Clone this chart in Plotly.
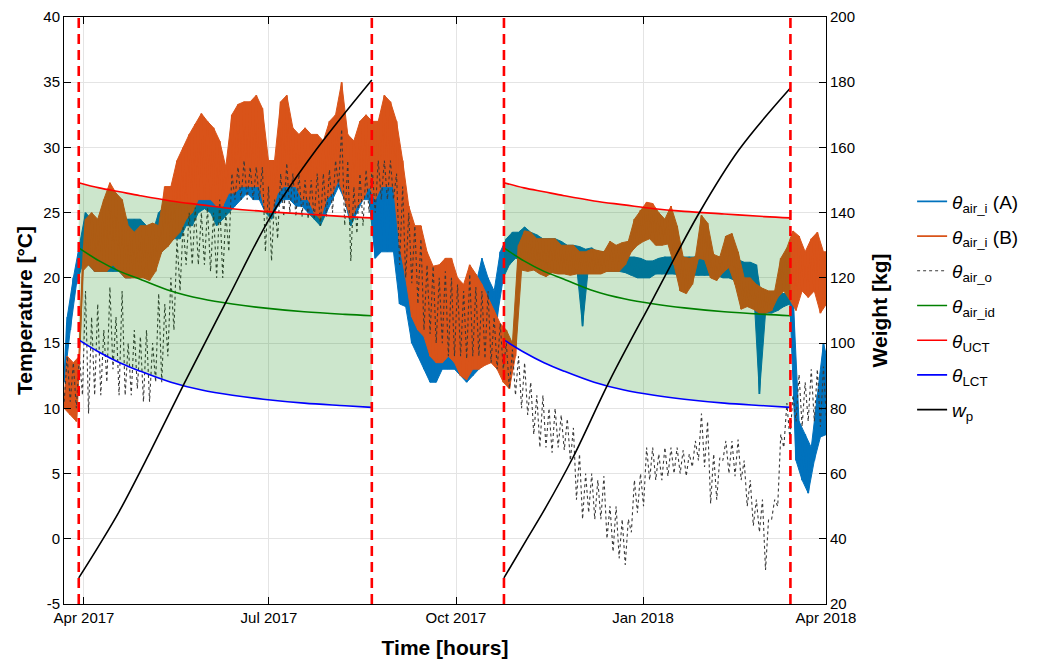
import pandas as pd
import plotly.graph_objects as go

# ---------------- data ----------------
sample_start = "2017-03-22 06:00"   # 3-day samples, each with a daily low / high
sample_step_days = 3

a_lo = [12, 16, 19.5, 21, 21, 20.5, 20.5, 20.5, 20.5, 20.5,
        20, 20, 20.5, 20, 20, 21, 22, 22.5, 23, 23,
        24, 24, 25, 25.3, 25, 24, 24.5, 25, 25.5, 26,
        26.5, 26, 26, 25, 24.5, 25.5, 26, 26, 25.5, 25.5,
        25, 24.5, 24, 25, 26, 27, 26, 24, 25, 26,
        26, 21.5, 22, 22, 22, 18, 17.8, 15, 14, 13,
        12, 12, 13, 13, 13, 12.5, 12, 12.5, 13, 13.5,
        14, 17, 20, 21, 21.5, 21.4, 21.4, 21.4, 21.3, 21.3,
        21.3, 21, 21, 21, 21, 16.3, 21, 20.8, 20.5, 20.5,
        20.5, 20.5, 20.4, 20.2, 20, 20, 20, 20.3, 20.3, 20.3,
        20.3, 20.2, 20.2, 20.2, 20.2, 20.2, 20.2, 20.2, 20, 20,
        19.8, 19.6, 19.6, 19.6, 11.1, 17.3, 17.3, 17.5, 17.8, 18,
        6, 4.5, 3.5, 6, 7.8, 8]
a_hi = [17, 20, 22.5, 25, 24.5, 24, 24.5, 25, 25, 24.5,
        24.5, 24.5, 24.5, 24, 23.5, 25, 25.5, 25.5, 26, 27,
        27.5, 28, 28, 28, 28, 27, 27, 28, 28.5, 29,
        29, 29, 28.5, 28, 27, 28.5, 29, 28.5, 28, 28,
        28, 27.5, 27, 28, 29, 30, 29, 27, 28, 29,
        29, 27, 29, 29, 28, 25, 22, 21, 21, 20,
        19, 19, 20, 20, 19.5, 19, 18.5, 19.5, 21.5, 20,
        19, 22, 23, 23.5, 23.5, 23.9, 23.5, 23.3, 23, 23,
        23, 22.8, 22.5, 22.5, 22.4, 22.2, 22.3, 22, 22, 22,
        21.8, 21.8, 21.6, 21.6, 21.5, 21.3, 21.3, 21.5, 21.6, 21.6,
        21.6, 21.6, 21.6, 21.6, 21.6, 21.6, 21.6, 21.6, 21.6, 21.6,
        21.4, 21.2, 21.2, 21, 18, 18.5, 18.5, 18.8, 18.8, 18.8,
        9, 8, 7, 11, 15, 13]
b_lo = [10, 9.5, 9, 20.5, 21, 20.5, 20.5, 20.5, 21, 20.5,
        20, 20, 20, 20, 19.8, 20.5, 22, 22.4, 23, 23.5,
        24.5, 25, 26, 26, 26, 25.5, 25.5, 26.5, 26.5, 27,
        27, 27, 27, 25, 25, 26.5, 27, 27, 27, 26,
        26, 25, 24.5, 26, 26.5, 27.5, 26, 24.5, 25.5, 26,
        27, 26, 27, 27, 27, 22.5, 20, 17, 16, 15.5,
        14, 13.5, 13.5, 14, 13.5, 12.5, 12.2, 13, 13, 13.3,
        13.5, 13, 12, 11.5, 14, 20.6, 20.5, 20.6, 20.3, 20.1,
        20.4, 20.3, 20.3, 20.2, 20.3, 20.3, 20.3, 20.3, 20.3, 20.5,
        20.5, 20.5, 21, 22, 22.5, 22.8, 23, 22.5, 22.5, 22.6,
        21, 19, 18.8, 19.5, 21.5, 21.4, 20, 19.8, 20.4, 20.8,
        19.5, 17.6, 17.8, 17.6, 17.3, 17.3, 17.5, 18.5, 19, 18.3,
        17.5, 19, 18.5, 19, 17.3, 18]
b_hi = [14, 13.5, 14, 24.5, 25, 24.5, 26, 27.3, 26.5, 26,
        24, 23.5, 24, 24, 24.2, 24, 27, 27, 29, 30,
        31, 31.8, 32.6, 32, 31.5, 30.5, 28.5, 32.5, 33.3, 33.5,
        33.5, 34, 33, 29, 29, 33.5, 34, 31.5, 31, 31.5,
        31, 31, 30.5, 32, 32.5, 35, 31, 30.5, 32, 32.5,
        32, 32, 34, 33.5, 32, 29, 25.5, 24, 24, 22,
        20.9, 21, 21.5, 21.5, 20, 19.5, 21, 20.3, 19.5, 18.5,
        17.5, 16.5, 16, 15, 22.5, 23.6, 23.5, 23, 23, 23,
        23, 22.5, 22.5, 22.5, 22, 22, 22.2, 22.1, 22, 22.8,
        22.5, 22.7, 22.8, 24.5, 25.2, 25.8, 25.7, 25, 24.5, 25.5,
        24, 21.6, 21.5, 21.6, 24.8, 24.2, 21.8, 21.6, 23.2, 23.4,
        22, 20, 20, 19.5, 19.2, 19, 19, 21.5, 22.3, 23.6,
        23.2, 22, 23, 23.5, 22, 22]
o_lo = [10.5, 10.5, 10, 11, 9.6, 11, 11, 12, 13, 11,
        11, 11, 11.5, 10.5, 10.5, 12, 12, 14, 16, 19,
        21, 21, 21, 21, 20.5, 20, 20, 22, 26, 26,
        26, 26, 26, 22, 21.3, 23, 24.7, 25, 24.7, 24.7,
        24.5, 24.5, 24, 24.7, 25, 27, 24, 21.3, 23.4, 24,
        25, 25, 26, 26, 26, 21, 20, 19.6, 18, 16,
        15.7, 15, 15, 14, 14, 14, 13.8, 14, 14, 13.8,
        13.5, 13, 13, 11.5, 11, 10, 9.5, 8, 7, 7,
        6.6, 7, 6.8, 6, 3, 1.5, 2, 1.5, 1.5, 0,
        -1, -1.5, -2, 0.5, 2, 2.5, 4.5, 4.5, 4.5, 4.8,
        5, 5, 4.8, 5.5, 6, 5.5, 2.7, 3, 6, 5,
        4.8, 4.5, 2.5, 1, 0.5, -2.4, 1.5, 2.5, 7, 7.6,
        9, 8.6, 9, 9, 8.6, 9]
o_hi = [14, 13.5, 14, 19, 17, 18, 16, 19.3, 17, 19,
        15, 16, 15.5, 16, 15, 18.8, 18, 20, 23, 24,
        25, 25.4, 25, 25.4, 25, 26, 25, 28, 28.5, 29,
        28.5, 28.5, 28.5, 27, 26, 28, 28.8, 28, 28, 27.5,
        27.5, 28, 28, 28.3, 29, 31.4, 29, 27, 28, 28.3,
        28.5, 29, 29, 29, 28, 27, 25, 24, 23, 21,
        20.9, 20, 20.5, 20, 19.5, 19, 20.3, 19.3, 19, 19,
        17, 16.5, 15, 14.5, 14, 13.5, 12, 11, 11, 10,
        10, 9.5, 9.2, 8.5, 6.5, 5, 5, 4.5, 4.8, 2.5,
        2.5, 1.5, 1.5, 4.5, 5, 7, 7, 6.5, 7, 7,
        7, 6.8, 6.5, 7.5, 9.6, 9, 6.5, 6.2, 7.5, 7.5,
        7.6, 6, 4.5, 3, 3, 1.5, 3, 8, 10.4, 11,
        12.6, 12, 13, 13, 13.2, 13]

# production phases (red dashed boundaries)
phase_start = ["2017-03-29 10:00", "2017-10-24 14:00"]
phase_end = ["2017-08-20 14:00", "2018-03-14 12:00"]

# comfort-temperature curves, sampled along each phase (days into phase of 143)
curve_days = [0, 10, 20, 30, 45, 60, 75, 90, 110, 130, 143]
theta_uct = [27.3, 26.9, 26.6, 26.3, 25.9, 25.6, 25.3, 25.1, 24.9, 24.7, 24.6]
theta_id = [22.3, 21.3, 20.5, 19.9, 19.0, 18.4, 18.0, 17.7, 17.4, 17.2, 17.1]
theta_lct = [15.25, 14.3, 13.5, 12.85, 12.0, 11.4, 11.0, 10.7, 10.4, 10.2, 10.07]

# pig weight per phase
wp1_days = [0, 10, 20, 35, 52, 73, 95, 117, 144.1]
wp1_kg = [28, 38, 48.5, 66.5, 87.8, 113.3, 139.5, 159.5, 180.7]
wp2_days = [0, 11, 20, 34, 52, 73, 96, 115.5, 140.9]
wp2_kg = [28, 39.6, 49, 65, 88.5, 113.2, 139.9, 159.2, 178.2]

tick_dates = ["2017-04-01", "2017-07-01", "2017-10-01", "2018-01-01", "2018-04-01"]
tick_text = ["Apr 2017", "Jul 2017", "Oct 2017", "Jan 2018", "Apr 2018"]
temp_ticks = [-5, 0, 5, 10, 15, 20, 25, 30, 35, 40]
weight_ticks = [20, 40, 60, 80, 100, 120, 140, 160, 180, 200]

# ---------------- build ----------------
FONT = "Liberation Sans, Arial, Helvetica, sans-serif"
t0 = pd.Timestamp(sample_start)
dates = [t0 + pd.Timedelta(days=sample_step_days * i) for i in range(len(a_lo))]
half = pd.Timedelta(days=sample_step_days / 2)


def zigzag(lo, hi):
    xs, ys = [], []
    for t, l, h in zip(dates, lo, hi):
        xs += [t, t + half]
        ys += [l, h]
    return xs, ys


def band(lo, hi):
    xs = [t + half for t in dates] + list(reversed(dates))
    ys = list(hi) + list(reversed(lo))
    return xs, ys


def phase_x(k, days, total):
    s, e = pd.Timestamp(phase_start[k]), pd.Timestamp(phase_end[k])
    return [s + (e - s) * (d / total) for d in days]


def both_phases(vals):
    xs, ys = [], []
    for k in range(2):
        xs += phase_x(k, curve_days, curve_days[-1]) + [None]
        ys += list(vals) + [None]
    return xs, ys


fig = go.Figure()

for lo, hi, col, nm, grp in [(a_lo, a_hi, "#0072BD", "<i>θ</i><sub>air_i</sub> (A)", "a"),
                             (b_lo, b_hi, "#D95319", "<i>θ</i><sub>air_i</sub> (B)", "b")]:
    bx, by = band(lo, hi)
    fig.add_trace(go.Scatter(x=bx, y=by, mode="lines", fill="toself", fillcolor=col,
                             line=dict(color=col, width=1), showlegend=False, hoverinfo="skip",
                             legendgroup=grp))
    zx, zy = zigzag(lo, hi)
    fig.add_trace(go.Scatter(x=zx, y=zy, mode="lines", name=nm, legendgroup=grp,
                             line=dict(color=col, width=1.8)))

xo, yo = zigzag(o_lo, o_hi)
fig.add_trace(go.Scatter(x=xo, y=yo, mode="lines", name="<i>θ</i><sub>air_o</sub>",
                         legendgroup="o", line=dict(color="#3a3a3a", width=1.1, dash="dot")))

# shaded comfort zone
for k in range(2):
    px = phase_x(k, curve_days, curve_days[-1])
    fig.add_trace(go.Scatter(x=px, y=theta_lct, mode="lines", line=dict(width=0, shape="spline"),
                             showlegend=False, hoverinfo="skip"))
    fig.add_trace(go.Scatter(x=px, y=theta_uct, mode="lines", line=dict(width=0, shape="spline"),
                             fill="tonexty", fillcolor="rgba(0,128,0,0.2)",
                             showlegend=False, hoverinfo="skip"))

for vals, nm, col, grp in [(theta_id, "<i>θ</i><sub>air_id</sub>", "#008000", "id"),
                           (theta_uct, "<i>θ</i><sub>UCT</sub>", "#FF0000", "uct"),
                           (theta_lct, "<i>θ</i><sub>LCT</sub>", "#0000FF", "lct")]:
    cx, cy = both_phases(vals)
    fig.add_trace(go.Scatter(x=cx, y=cy, mode="lines", name=nm, legendgroup=grp,
                             line=dict(color=col, width=1.6, shape="spline")))

wx = phase_x(0, wp1_days, wp1_days[-1]) + [None] + phase_x(1, wp2_days, wp2_days[-1])
wy = wp1_kg + [None] + wp2_kg
fig.add_trace(go.Scatter(x=wx, y=wy, mode="lines", name="<i>w</i><sub>p</sub>", legendgroup="wp",
                         yaxis="y2", line=dict(color="#000000", width=1.6, shape="spline")))

for d in phase_start + phase_end:
    fig.add_shape(type="line", xref="x", yref="paper", x0=d, x1=d, y0=0, y1=1,
                  line=dict(color="#FF0000", width=2.6, dash="10px,6px"), layer="above")

axis_common = dict(showline=True, linecolor="black", linewidth=1, ticks="inside",
                   ticklen=7, tickcolor="black", tickfont=dict(size=15, color="black", family=FONT),
                   zeroline=False, automargin=False)

# the page adds an 8px body margin, so margins are reduced by 8px to keep the plot in place
fig.update_layout(
    width=1040, height=659,
    margin=dict(l=56, r=222, t=9, b=63, autoexpand=False),
    paper_bgcolor="white", plot_bgcolor="white",
    font=dict(family=FONT, color="black"),
    showlegend=True,
    legend=dict(x=1.113, y=0.718, xanchor="left", yanchor="top",
                bgcolor="rgba(0,0,0,0)", font=dict(size=19, family=FONT),
                traceorder="grouped", tracegroupgap=7),
    xaxis=dict(type="date", range=["2017-03-22 04:00", "2018-04-01"],
               tickvals=tick_dates, ticktext=tick_text, mirror="ticks",
               showgrid=True, gridcolor="#e4e4e4", gridwidth=1,
               title=dict(text="<b>Time [hours]</b>", font=dict(size=21, family=FONT), standoff=15),
               **axis_common),
    yaxis=dict(range=[-5, 40], tickvals=temp_ticks, ticktext=[str(v) for v in temp_ticks],
               showgrid=True, gridcolor="#e4e4e4",
               title=dict(text="<b>Temperature [°C]</b>", font=dict(size=21, family=FONT), standoff=4),
               **axis_common),
    yaxis2=dict(range=[20, 200], tickvals=weight_ticks, overlaying="y", side="right",
                showgrid=False,
                title=dict(text="<b>Weight [kg]</b>", font=dict(size=21, family=FONT), standoff=18),
                **axis_common),
)

fig.write_html("out.html")
